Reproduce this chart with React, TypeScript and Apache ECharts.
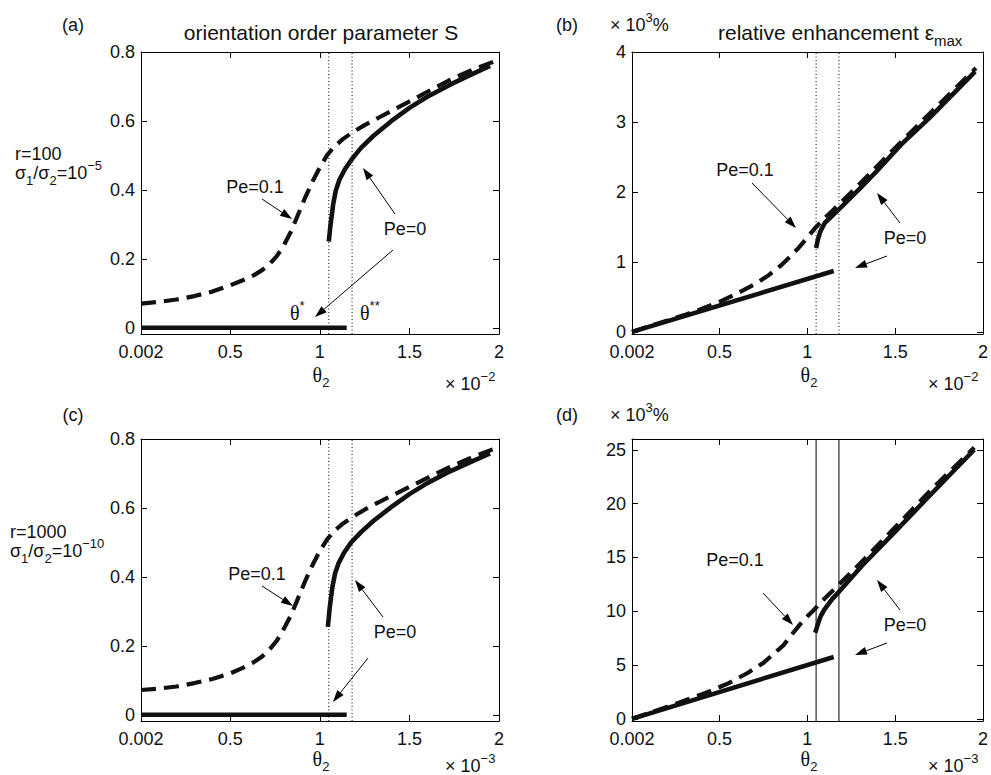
import React, { useEffect, useRef } from "react";
import * as echarts from "echarts";

// ---------- data ----------
const xTickValues = [0.002, 0.5, 1, 1.5, 2];
const yTicksS = [0, 0.2, 0.4, 0.6, 0.8];
const yTicksEps100 = [0, 1, 2, 3, 4];
const yTicksEps1000 = [0, 5, 10, 15, 20, 25];
const thetaLines = [1.05, 1.18];

// (a) r=100, orientation order parameter S
const aPe01X = [0.002, 0.1, 0.2, 0.3, 0.4, 0.5, 0.57, 0.63, 0.68, 0.72, 0.76, 0.8, 0.84, 0.88, 0.92, 0.96, 1.0, 1.04, 1.08, 1.13, 1.18, 1.25, 1.33, 1.42, 1.52, 1.62, 1.73, 1.85, 1.97];
const aPe01Y = [0.07, 0.075, 0.082, 0.092, 0.105, 0.123, 0.138, 0.152, 0.168, 0.185, 0.208, 0.24, 0.28, 0.33, 0.38, 0.425, 0.465, 0.5, 0.525, 0.548, 0.566, 0.588, 0.61, 0.635, 0.662, 0.69, 0.72, 0.748, 0.772];
const aPe0LowX = [0.002, 1.15];
const aPe0LowY = [0, 0];
const aPe0UpX = [1.05, 1.06, 1.075, 1.09, 1.11, 1.14, 1.18, 1.23, 1.3, 1.4, 1.5, 1.6, 1.73, 1.85, 1.95];
const aPe0UpY = [0.25, 0.3, 0.36, 0.4, 0.43, 0.46, 0.49, 0.522, 0.557, 0.6, 0.638, 0.67, 0.706, 0.736, 0.76];

// (b) r=100, relative enhancement (x10^3 %)
const bPe01X = [0.002, 0.1, 0.2, 0.3, 0.4, 0.5, 0.6, 0.7, 0.78, 0.85, 0.9, 0.95, 1.0, 1.05, 1.1, 1.15, 1.2, 1.3, 1.5, 1.7, 1.96];
const bPe01Y = [0, 0.08, 0.16, 0.24, 0.33, 0.43, 0.55, 0.68, 0.81, 0.95, 1.07, 1.2, 1.35, 1.5, 1.63, 1.75, 1.87, 2.12, 2.63, 3.13, 3.77];
const bPe0LowX = [0.002, 1.15];
const bPe0LowY = [0, 0.87];
const bPe0UpX = [1.05, 1.06, 1.075, 1.1, 1.15, 1.2, 1.3, 1.4, 1.535, 1.7, 1.955];
const bPe0UpY = [1.2, 1.32, 1.44, 1.56, 1.68, 1.8, 2.05, 2.31, 2.68, 3.07, 3.72];

// (c) r=1000, orientation order parameter S
const cPe01X = [0.002, 0.1, 0.2, 0.3, 0.4, 0.5, 0.57, 0.63, 0.68, 0.72, 0.76, 0.8, 0.84, 0.88, 0.92, 0.96, 1.0, 1.04, 1.08, 1.13, 1.18, 1.25, 1.33, 1.42, 1.52, 1.62, 1.73, 1.85, 1.97];
const cPe01Y = [0.072, 0.076, 0.082, 0.092, 0.104, 0.12, 0.136, 0.152, 0.17, 0.19, 0.215, 0.25, 0.29, 0.34, 0.39, 0.435, 0.475, 0.508, 0.533, 0.555, 0.573, 0.595, 0.617, 0.64, 0.666, 0.692, 0.72, 0.747, 0.771];
const cPe0LowX = [0.002, 1.15];
const cPe0LowY = [0, 0];
const cPe0UpX = [1.045, 1.055, 1.07, 1.085, 1.105, 1.135, 1.175, 1.23, 1.3, 1.4, 1.5, 1.6, 1.73, 1.85, 1.95];
const cPe0UpY = [0.255, 0.31, 0.37, 0.41, 0.44, 0.47, 0.5, 0.53, 0.563, 0.603, 0.64, 0.672, 0.707, 0.735, 0.758];

// (d) r=1000, relative enhancement (x10^3 %)
const dPe01X = [0.002, 0.2, 0.42, 0.55, 0.66, 0.75, 0.82, 0.865, 0.9, 0.94, 0.98, 1.03, 1.1, 1.2, 1.31, 1.5, 1.7, 1.95];
const dPe01Y = [0, 1.1, 2.4, 3.3, 4.26, 5.2, 6.2, 6.85, 7.6, 8.4, 9.2, 10, 11.2, 12.8, 14.6, 17.8, 21.2, 25.2];
const dPe0LowX = [0.002, 1.15];
const dPe0LowY = [0, 5.75];
const dPe0UpX = [1.045, 1.06, 1.075, 1.095, 1.14, 1.18, 1.31, 1.5, 1.7, 1.95];
const dPe0UpY = [8, 8.8, 9.5, 10.1, 11.1, 11.8, 14.2, 17.4, 20.8, 25];

// ---------- layout / style ----------
const FONT = "'Liberation Sans', Arial, Helvetica, sans-serif";
const SERIF = "'Liberation Serif', 'DejaVu Serif', serif";
const INK = "#111";
const GRIDS = [
  { left: 141, top: 52, width: 358, height: 282 },
  { left: 632, top: 52, width: 358, height: 282 },
  { left: 141, top: 439, width: 358, height: 282 },
  { left: 632, top: 439, width: 358, height: 282 },
];
const Y_RANGES = [
  { min: -0.018, max: 0.8, ticks: yTicksS },
  { min: -0.03, max: 4, ticks: yTicksEps100 },
  { min: -0.018, max: 0.8, ticks: yTicksS },
  { min: -0.2, max: 26, ticks: yTicksEps1000 },
];

const zip = (xs: number[], ys: number[]) => xs.map((x, i) => [x, ys[i]]);

function curve(gi: number, xs: number[], ys: number[], dashed: boolean) {
  return {
    type: "line",
    xAxisIndex: gi * 2,
    yAxisIndex: gi * 2,
    data: zip(xs, ys),
    showSymbol: false,
    symbol: "none",
    silent: true,
    lineStyle: { color: INK, width: dashed ? 4.2 : 4.6, type: dashed ? [15, 8] : "solid", cap: "butt", join: "round" },
    z: 5,
  };
}

function vline(gi: number, x: number, dotted: boolean) {
  const r = Y_RANGES[gi];
  return {
    type: "line",
    xAxisIndex: gi * 2,
    yAxisIndex: gi * 2,
    data: [
      [x, r.min],
      [x, r.max],
    ],
    showSymbol: false,
    symbol: "none",
    silent: true,
    lineStyle: { color: "#000", width: 1, type: dotted ? [1, 2.5] : "solid" },
    z: 3,
  };
}

function arrow(x1: number, y1: number, x2: number, y2: number) {
  const dx = x2 - x1;
  const dy = y2 - y1;
  const len = Math.sqrt(dx * dx + dy * dy);
  const ux = dx / len;
  const uy = dy / len;
  const L = 12;
  const W = 4;
  const bx = x2 - ux * L;
  const by = y2 - uy * L;
  return [
    { type: "line", silent: true, shape: { x1, y1, x2: bx, y2: by }, style: { stroke: "#000", lineWidth: 1 } },
    {
      type: "polygon",
      silent: true,
      shape: { points: [[x2, y2], [bx - uy * W, by + ux * W], [bx + uy * W, by - ux * W]] },
      style: { fill: "#000" },
    },
  ];
}

// text runs: [text, kind] with kind n (normal), g (greek serif), sup, sub
type Run = [string, string];
const KIND: Record<string, { size: number; family: string; dy: number; lh: number }> = {
  n: { size: 18, family: FONT, dy: 0, lh: 16 },
  t: { size: 21, family: FONT, dy: 0, lh: 20 },
  g: { size: 20, family: SERIF, dy: 0, lh: 16 },
  sup: { size: 13, family: FONT, dy: -8, lh: 11 },
  sub: { size: 13, family: FONT, dy: 7, lh: 11 },
  tsub: { size: 15, family: FONT, dy: 8, lh: 13 },
};
let measureCtx: CanvasRenderingContext2D | null = null;
function measure(text: string, size: number, family: string) {
  if (!measureCtx) measureCtx = document.createElement("canvas").getContext("2d");
  if (!measureCtx) return text.length * size * 0.55;
  measureCtx.font = `${size}px ${family}`;
  return measureCtx.measureText(text).width;
}
function runs(x: number, y: number, parts: Run[], align: "left" | "center" = "left") {
  const widths = parts.map(([t, k]) => measure(t, KIND[k].size, KIND[k].family));
  const total = widths.reduce((a, b) => a + b, 0);
  let cx = align === "center" ? x - total / 2 : x;
  const out: any[] = [];
  parts.forEach(([t, k], i) => {
    const s = KIND[k];
    out.push({
      type: "text",
      x: cx,
      y: y + s.dy,
      silent: true,
      style: {
        text: t,
        fill: INK,
        fontFamily: s.family,
        fontSize: s.size,
        lineHeight: s.lh,
        align: "left",
        textAlign: "left",
        verticalAlign: "middle",
        textVerticalAlign: "middle",
      },
      z: 10,
    });
    cx += widths[i];
  });
  return out;
}

export default function App() {
  const ref = useRef<HTMLDivElement>(null);
  useEffect(() => {
    if (!ref.current) return;
    const chart = echarts.init(ref.current, undefined, { renderer: "svg" });

    const xAxis: any[] = [];
    const yAxis: any[] = [];
    GRIDS.forEach((_, gi) => {
      const r = Y_RANGES[gi];
      const common = { gridIndex: gi, type: "value", splitLine: { show: false }, axisLine: { show: true, onZero: false, lineStyle: { color: "#000", width: 1 } } };
      const tick = (vals: number[]) => ({ show: true, inside: true, length: 6, lineStyle: { color: "#000" }, customValues: vals });
      xAxis.push({
        ...common,
        position: "bottom",
        min: 0.002,
        max: 2,
        axisTick: tick(xTickValues),
        axisLabel: { show: true, customValues: xTickValues, margin: 11, lineHeight: 14, fontFamily: FONT, fontSize: 18, color: INK, formatter: (v: number) => String(v) },
      });
      xAxis.push({ ...common, position: "top", min: 0.002, max: 2, axisTick: tick(xTickValues), axisLabel: { show: false } });
      yAxis.push({
        ...common,
        position: "left",
        min: r.min,
        max: r.max,
        axisTick: tick(r.ticks),
        axisLabel: { show: true, customValues: r.ticks, margin: 6, lineHeight: 14, fontFamily: FONT, fontSize: 18, color: INK, formatter: (v: number) => String(v) },
      });
      yAxis.push({ ...common, position: "right", min: r.min, max: r.max, axisTick: tick(r.ticks), axisLabel: { show: false } });
    });

    const series: any[] = [
      vline(0, thetaLines[0], true), vline(0, thetaLines[1], true),
      vline(1, thetaLines[0], true), vline(1, thetaLines[1], true),
      vline(2, thetaLines[0], true), vline(2, thetaLines[1], true),
      vline(3, thetaLines[0], false), vline(3, thetaLines[1], false),
      curve(0, aPe01X, aPe01Y, true), curve(0, aPe0LowX, aPe0LowY, false), curve(0, aPe0UpX, aPe0UpY, false),
      curve(1, bPe01X, bPe01Y, true), curve(1, bPe0LowX, bPe0LowY, false), curve(1, bPe0UpX, bPe0UpY, false),
      curve(2, cPe01X, cPe01Y, true), curve(2, cPe0LowX, cPe0LowY, false), curve(2, cPe0UpX, cPe0UpY, false),
      curve(3, dPe01X, dPe01Y, true), curve(3, dPe0LowX, dPe0LowY, false), curve(3, dPe0UpX, dPe0UpY, false),
    ];

    const theta2: Run[] = [["θ", "g"], ["2", "sub"]];
    const e3: Run[] = [["× 10", "n"], ["3", "sup"], ["%", "n"]];
    const graphic: any[] = [
      // panel labels
      ...runs(73, 25, [["(a)", "n"]], "center"),
      ...runs(567, 25, [["(b)", "n"]], "center"),
      ...runs(73, 415, [["(c)", "n"]], "center"),
      ...runs(567, 415, [["(d)", "n"]], "center"),
      // titles
      ...runs(321, 32, [["orientation order parameter S", "t"]], "center"),
      ...runs(718, 32, [["relative enhancement ε", "t"], ["max", "tsub"]]),
      ...runs(610, 25, e3),
      ...runs(610, 415, e3),
      // row labels
      ...runs(15, 154, [["r=100", "n"]]),
      ...runs(15, 173, [["σ", "n"], ["1", "sub"], ["/σ", "n"], ["2", "sub"], ["=10", "n"], ["−5", "sup"]]),
      ...runs(10, 532, [["r=1000", "n"]]),
      ...runs(10, 551, [["σ", "n"], ["1", "sub"], ["/σ", "n"], ["2", "sub"], ["=10", "n"], ["−10", "sup"]]),
      // x axis names
      ...runs(321, 375, theta2, "center"),
      ...runs(809, 375, theta2, "center"),
      ...runs(321, 759, theta2, "center"),
      ...runs(809, 759, theta2, "center"),
      ...runs(445, 384, [["× 10", "n"], ["−2", "sup"]]),
      ...runs(928, 384, [["× 10", "n"], ["−2", "sup"]]),
      ...runs(445, 766, [["× 10", "n"], ["−3", "sup"]]),
      ...runs(928, 766, [["× 10", "n"], ["−3", "sup"]]),
      // annotations (a)
      ...runs(255, 187, [["Pe=0.1", "n"]], "center"),
      ...runs(405, 229, [["Pe=0", "n"]], "center"),
      ...runs(290, 313, [["θ", "g"], ["*", "sup"]]),
      ...runs(360, 313, [["θ", "g"], ["**", "sup"]]),
      // annotations (b)
      ...runs(745, 170, [["Pe=0.1", "n"]], "center"),
      ...runs(905, 238, [["Pe=0", "n"]], "center"),
      // annotations (c)
      ...runs(257, 574, [["Pe=0.1", "n"]], "center"),
      ...runs(395, 632, [["Pe=0", "n"]], "center"),
      // annotations (d)
      ...runs(735, 560, [["Pe=0.1", "n"]], "center"),
      ...runs(905, 625, [["Pe=0", "n"]], "center"),
      // arrows
      ...arrow(262, 199, 292, 219),
      ...arrow(395, 214, 363, 168),
      ...arrow(393, 250, 315, 317),
      ...arrow(752, 183, 796, 228),
      ...arrow(900, 223, 877, 193),
      ...arrow(887, 256, 855, 268),
      ...arrow(262, 586, 293, 606),
      ...arrow(383, 617, 355, 580),
      ...arrow(368, 658, 333, 702),
      ...arrow(763, 593, 793, 625),
      ...arrow(900, 610, 877, 580),
      ...arrow(887, 643, 855, 655),
    ];

    chart.setOption({
      animation: false,
      backgroundColor: "#fff",
      grid: GRIDS.map((g) => ({ ...g, containLabel: false })),
      xAxis,
      yAxis,
      series,
      graphic: { elements: graphic },
    });
    return () => chart.dispose();
  }, []);
  return <div ref={ref} style={{ position: "fixed", left: 0, top: 0, width: 991, height: 775, background: "#fff" }} />;
}
